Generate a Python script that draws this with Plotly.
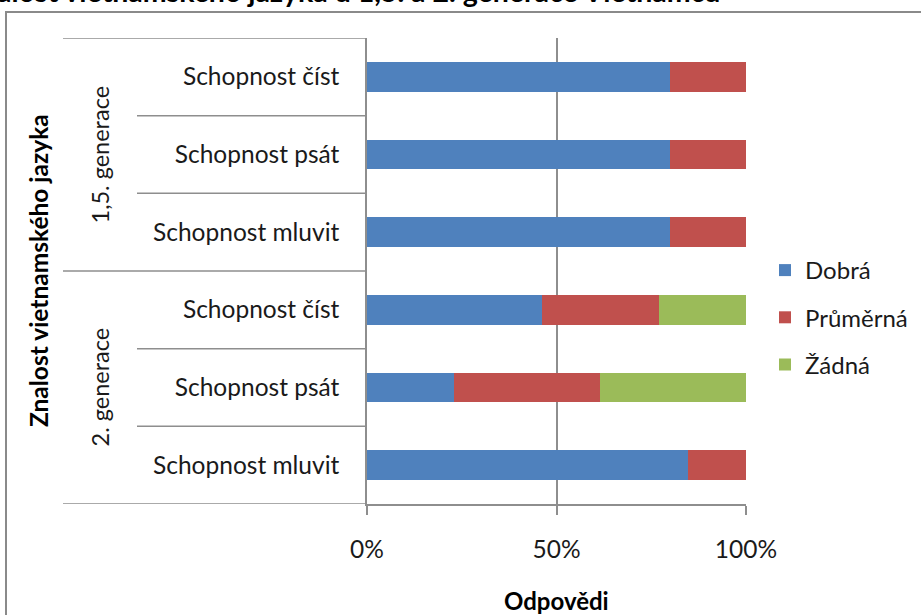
import plotly.graph_objects as go

# Survey answers (share of respondents) per skill and generation
skills = ["Schopnost číst", "Schopnost psát", "Schopnost mluvit",
          "Schopnost číst", "Schopnost psát", "Schopnost mluvit"]
groups = ["1,5. generace", "2. generace"]
dobra = [0.80, 0.80, 0.80, 6 / 13, 3 / 13, 11 / 13]
prumerna = [0.20, 0.20, 0.20, 4 / 13, 5 / 13, 2 / 13]
zadna = [0.0, 0.0, 0.0, 3 / 13, 5 / 13, 0.0]
series_names = ["Dobrá", "Průměrná", "Žádná"]
series_colors = ["#4F81BD", "#C0504D", "#9BBB59"]
x_ticks = [0, 0.5, 1.0]
x_tick_labels = ["0%", "50%", "100%"]

FONT = "Lato"
GRID = "#8E8E8E"
W, H = 921, 615
L, R, T, B = 367, 175, 38, 111
plot_w = W - L - R
plot_h = H - T - B


def px_to_paper_x(px):
    return (px - L) / plot_w


def px_to_paper_y(py):
    return 1 - (py - T) / plot_h


positions = list(range(len(skills)))

fig = go.Figure()
for name, vals, col in zip(series_names, [dobra, prumerna, zadna], series_colors):
    fig.add_trace(go.Bar(
        y=positions, x=vals, name=name, orientation="h",
        marker=dict(color=col, line=dict(width=0)),
        width=0.386, legendgroup=name,
    ))

shapes = []
# category separators to the left of the value axis
for b in [-0.5, 0.5, 1.5, 2.5, 3.5, 4.5, 5.5]:
    start = 63 if b in (-0.5, 2.5, 5.5) else 137
    shapes.append(dict(type="line", xref="paper", yref="y",
                       x0=px_to_paper_x(start), x1=0, y0=b, y1=b,
                       line=dict(color=GRID, width=1.5)))
# chart area frame
shapes.append(dict(type="rect", xref="paper", yref="paper",
                   x0=px_to_paper_x(6), x1=px_to_paper_x(1000),
                   y0=px_to_paper_y(700), y1=px_to_paper_y(12),
                   line=dict(color="#8A8A8A", width=2)))

annotations = [
    dict(text="Znalost vietnamského jazyka u 1,5. a 2. generace Vietnamců",
         xref="paper", yref="paper", x=px_to_paper_x(722), y=px_to_paper_y(10),
         xanchor="right", yanchor="bottom", showarrow=False,
         font=dict(family=FONT, size=28.5, color="#000000", weight="bold")),
    dict(text="Znalost vietnamského jazyka", textangle=-90,
         xref="paper", yref="y", x=px_to_paper_x(38), y=2.5,
         xanchor="center", yanchor="middle", showarrow=False,
         font=dict(family=FONT, size=24.5, color="#000000", weight="bold")),
    dict(text=groups[0], textangle=-90,
         xref="paper", yref="y", x=px_to_paper_x(99), y=1,
         xanchor="center", yanchor="middle", showarrow=False,
         font=dict(family=FONT, size=23.5, color="#1A1A1A")),
    dict(text=groups[1], textangle=-90,
         xref="paper", yref="y", x=px_to_paper_x(99), y=4,
         xanchor="center", yanchor="middle", showarrow=False,
         font=dict(family=FONT, size=23.5, color="#1A1A1A")),
    dict(text="Odpovědi",
         xref="paper", yref="paper", x=px_to_paper_x(556), y=px_to_paper_y(600),
         xanchor="center", yanchor="middle", showarrow=False,
         font=dict(family=FONT, size=24, color="#000000", weight="bold")),
]

fig.update_layout(
    width=W, height=H,
    margin=dict(l=L, r=R, t=T, b=B, autoexpand=False),
    barmode="stack",
    plot_bgcolor="white", paper_bgcolor="white",
    font=dict(family=FONT, size=24, color="#1A1A1A"),
    showlegend=True,
    legend=dict(x=px_to_paper_x(765), y=px_to_paper_y(248), xanchor="left", yanchor="top",
                traceorder="grouped", tracegroupgap=13,
                font=dict(family=FONT, size=24, color="#1A1A1A"),
                bgcolor="rgba(0,0,0,0)"),
    shapes=shapes,
    annotations=annotations,
    xaxis=dict(range=[0, 1], tickvals=x_ticks, ticktext=x_tick_labels,
               showgrid=True, gridcolor=GRID, gridwidth=1.5,
               showline=True, linecolor=GRID, linewidth=1.5,
               ticks="outside", ticklen=9, tickcolor=GRID, tickwidth=1.5,
               ticklabelstandoff=14, zeroline=False, fixedrange=True,
               tickfont=dict(family=FONT, size=24.5, color="#1A1A1A")),
    yaxis=dict(range=[5.5, -0.5], tickvals=positions, ticktext=skills,
               showgrid=False, zeroline=False,
               showline=True, linecolor=GRID, linewidth=1.5,
               ticks="", ticklabelstandoff=21, fixedrange=True,
               tickfont=dict(family=FONT, size=24.5, color="#1A1A1A")),
)

fig.write_html("out.html")
